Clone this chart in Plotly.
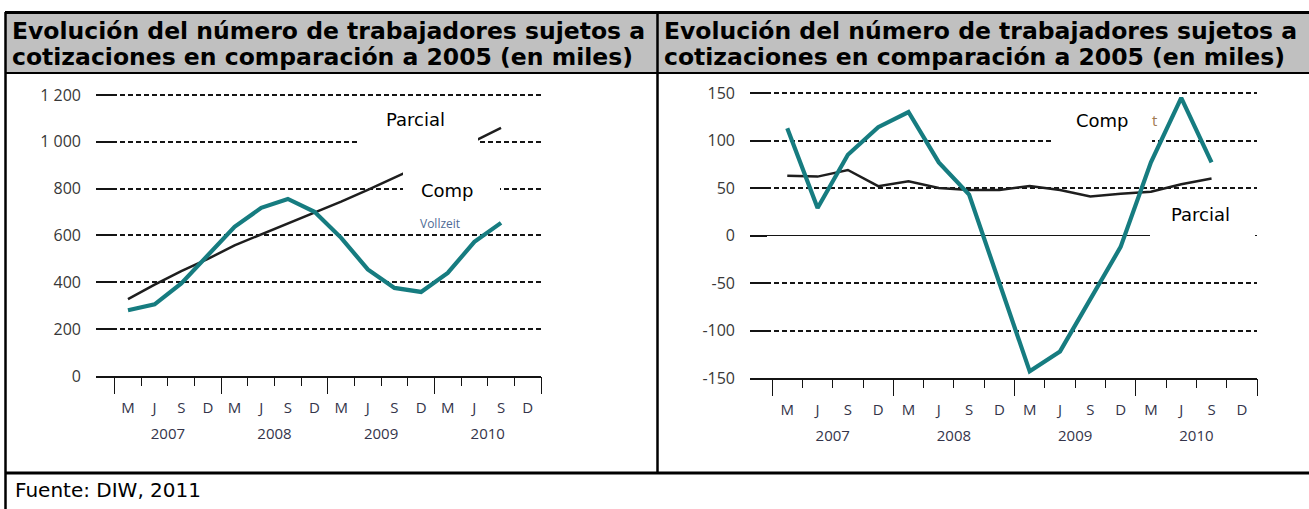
import plotly.graph_objects as go

# tamaño de la página
W, H = 1309, 509

# datos (miles de trabajadores, trimestres M J S D de 2007 a 2010)
meses = ["M", "J", "S", "D"] * 4
anios = ["2007", "2008", "2009", "2010"]

izq_parcial = [328, 390, 448, 500, 558, 605, 650, 696, 745, 795, 848, 900, 952, 1003, 1060]
izq_completa = [281, 306, 395, 515, 637, 718, 756, 701, 590, 455, 376, 359, 440, 573, 654]

der_parcial = [63, 62, 69, 52, 57, 50, 48, 48, 52, 48, 41, 44, 46, 54, 60]
der_completa = [113, 29, 85, 114, 130, 77, 43, -50, -143, -122, -67, -12, 77, 145, 77]

izq_ticks = [0, 200, 400, 600, 800, 1000, 1200]
izq_ticktext = ["0", "200", "400", "600", "800", "1 000", "1 200"]
der_ticks = [-150, -100, -50, 0, 50, 100, 150]
der_ticktext = ["-150", "-100", "-50", "0", "50", "100", "150"]

titulo1 = "Evolución del número de trabajadores sujetos a"
titulo2 = "cotizaciones en comparación a 2005 (en miles)"
fuente = "Fuente: DIW, 2011"

# colores
colores = {
    'completa': '#167C80',
    'parcial': '#1e1e1e',
    'grid': '#141414',
    'texto_eje': '#383838',
    'texto_mes': '#34344a',
    'cabecera': '#c0c0c0',
}


def px(x, y):
    # pasa pixeles de la pagina a coordenadas paper
    return x / W, 1 - y / H


x_idx = list(range(len(izq_parcial)))
centros_anio = [4 * i + 1.5 for i in range(len(anios))]
bordes_anio = [4 * i - 0.5 for i in range(len(anios) + 1)]
bordes_trim = [i - 0.5 for i in range(len(meses) + 1)]

fig = go.Figure()


def añadirLinea(serie, color, ancho, xa, ya):
    fig.add_trace(go.Scatter(x=x_idx, y=serie, mode="lines",
                             line=dict(color=color, width=ancho),
                             xaxis=xa, yaxis=ya, showlegend=False,
                             hoverinfo="skip"))


añadirLinea(izq_parcial, colores['parcial'], 2.5, "x", "y")
añadirLinea(izq_completa, colores['completa'], 4.2, "x", "y")
añadirLinea(der_parcial, colores['parcial'], 2.5, "x2", "y2")
añadirLinea(der_completa, colores['completa'], 4.2, "x2", "y2")

# trazas vacias para los ejes de los años
for xa, ya in (("x3", "y"), ("x4", "y2")):
    fig.add_trace(go.Scatter(x=centros_anio, y=[None] * len(anios), xaxis=xa, yaxis=ya,
                             mode="lines", showlegend=False, hoverinfo="skip"))

fuente_eje = dict(family="Open Sans", size=16, color=colores['texto_eje'])
fuente_x = dict(family="Open Sans", size=15, color=colores['texto_mes'])


def eje_meses(dom, rango):
    return dict(domain=dom, range=rango, tickmode="array", tickvals=list(range(len(meses))),
                ticktext=meses, ticks="", showline=True, linecolor=colores['grid'],
                linewidth=1.5, showgrid=False, zeroline=False, tickfont=fuente_x,
                ticklabelstandoff=17, fixedrange=True,
                minor=dict(tickmode="array", tickvals=bordes_trim, ticks="outside",
                           ticklen=8, tickcolor=colores['grid'], tickwidth=1.3))


def eje_anios(sobre, ancla, rango):
    return dict(overlaying=sobre, anchor=ancla, range=rango, tickmode="array",
                tickvals=centros_anio, ticktext=anios, ticks="", showline=False,
                showgrid=False, zeroline=False, tickfont=fuente_x,
                ticklabelstandoff=47, fixedrange=True,
                minor=dict(tickmode="array", tickvals=bordes_anio, ticks="outside",
                           ticklen=17, tickcolor=colores['grid'], tickwidth=1.3))


def eje_y(dom, rango, vals, textos, cero):
    return dict(domain=dom, range=rango, tickmode="array", tickvals=vals, ticktext=textos,
                ticks="inside", ticklen=17, tickwidth=1.5, tickcolor=colores['grid'],
                showline=False, showgrid=True, gridcolor=colores['grid'], gridwidth=1.8,
                griddash="5px,3px", zeroline=cero, zerolinecolor=colores['grid'],
                zerolinewidth=1, tickfont=fuente_eje, ticklabelstandoff=14,
                fixedrange=True)


# el borde superior queda un poco por encima de la ultima linea de la rejilla
x0, _ = px(96, 0)
x1, _ = px(541, 0)
_, yb = px(0, 376)
_, yt = px(0, 90)
x0d, _ = px(750, 0)
x1d, _ = px(1257, 0)
_, ybd = px(0, 378)
_, ytd = px(0, 88)

rango_izq = [-1.2, 15.5]
rango_der = [-1.23, 15.5]
rango_y_izq = [0, 1221.3]
rango_y_der = [-150, 155.3]

fig.update_layout(
    xaxis=dict(eje_meses([x0, x1], rango_izq), anchor="y"),
    yaxis=dict(eje_y([yb, yt], rango_y_izq, izq_ticks, izq_ticktext, False), anchor="x"),
    xaxis2=dict(eje_meses([x0d, x1d], rango_der), anchor="y2"),
    yaxis2=dict(eje_y([ybd, ytd], rango_y_der, der_ticks, der_ticktext, True), anchor="x2"),
    xaxis3=eje_anios("x", "y", rango_izq),
    xaxis4=eje_anios("x2", "y2", rango_der),
)

# tabla: cabecera gris y bordes
shapes = []
a, b = px(5, 12)
c, d = px(1309, 73)
shapes.append(dict(type="rect", xref="paper", yref="paper", x0=a, y0=b, x1=c, y1=d,
                   fillcolor=colores['cabecera'], line=dict(width=0), layer="below"))


def linea(xa, ya, xb, yb_, ancho):
    p, q = px(xa, ya)
    r, s = px(xb, yb_)
    shapes.append(dict(type="line", xref="paper", yref="paper", x0=p, y0=q, x1=r, y1=s,
                       line=dict(color="black", width=ancho), layer="above"))


# cajas blancas que tapan las lineas detras de las etiquetas
def caja(xa, ya, xb, yb_):
    p, q = px(xa, ya)
    r, s = px(xb, yb_)
    shapes.append(dict(type="rect", xref="paper", yref="paper", x0=p, y0=q, x1=r, y1=s,
                       fillcolor="white", line=dict(width=0), layer="above"))


caja(357, 100, 478, 146)
caja(403, 146, 500, 215)
caja(1052, 100, 1152, 150)
caja(1150, 193, 1255, 250)

linea(5, 12.5, 1309, 12.5, 3)
linea(5, 73, 1309, 73, 2)
linea(5, 473, 1309, 473, 3)
linea(5.5, 12, 5.5, 509, 2.5)
linea(657.5, 12, 657.5, 473, 2.5)

fig.update_layout(shapes=shapes)

anots = []


def texto(t, x, y, size, color="black", bold=False, anchor="center", familia="DejaVu Sans"):
    p, q = px(x, y)
    anots.append(dict(text=t, x=p, y=q, xref="paper", yref="paper", showarrow=False,
                      xanchor=anchor, yanchor="middle",
                      font=dict(family=familia, size=size, color=color,
                                weight="bold" if bold else "normal")))


texto(titulo1, 10, 31, 23.5, bold=True, anchor="left")
texto(titulo2, 10, 57, 23.5, bold=True, anchor="left")
texto(titulo1, 662, 31, 23.5, bold=True, anchor="left")
texto(titulo2, 662, 57, 23.5, bold=True, anchor="left")
texto(fuente, 13, 490, 20, anchor="left")

texto("Parcial", 415, 119, 18)
texto("Comp", 447, 190, 18)
texto("Vollzeit", 440, 224, 12, color="#4f6b95", familia="Open Sans")
texto("Comp", 1102, 120, 18)
texto("t", 1154, 120, 15, color="#a07a50", familia="Open Sans")
texto("Parcial", 1200, 215, 18)

fig.update_layout(annotations=anots, width=W, height=H, autosize=False,
                  margin=dict(l=0, r=0, t=0, b=0, pad=0, autoexpand=False),
                  paper_bgcolor="white", plot_bgcolor="white", showlegend=False)

# sin el margen por defecto del body, la figura queda en (0,0)
fig.write_html("out.html", config={"displayModeBar": False},
               post_script="document.body.style.margin='0';")
